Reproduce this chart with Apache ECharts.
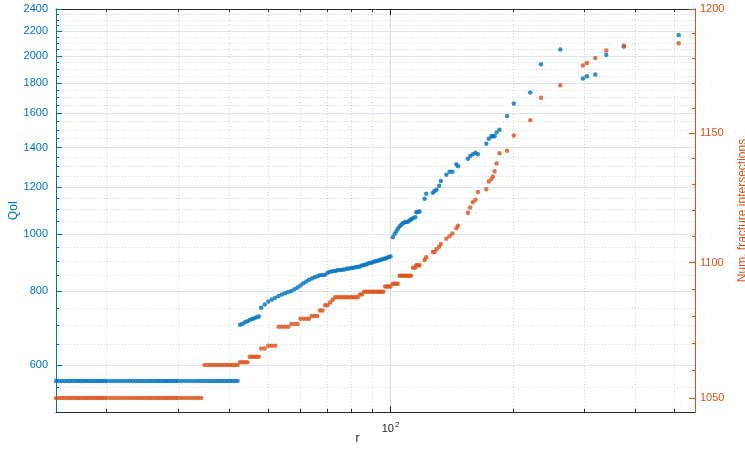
<!DOCTYPE html>
<html>
<head>
<meta charset="utf-8">
<script src="https://cdn.jsdelivr.net/npm/echarts@6/dist/echarts.min.js"></script>
<style>html,body{margin:0;padding:0;background:#fff}#c{width:745px;height:449px}</style>
</head>
<body>
<div id="c"></div>
<script>
// ---- data ----
const r = [
  15,15.25,15.5,15.75,16,16.25,16.5,16.75,17,17.25,17.5,17.75,18,18.25,18.5,18.75,19,19.25,19.5,19.75,20,
  20.4,20.8,21.2,21.6,22,22.4,22.8,23.2,23.6,24,24.4,24.8,25.2,25.6,26,26.4,26.8,27.2,27.6,28,28.4,28.8,29.2,29.6,30,
  30.6,31.2,31.8,32.4,33,33.6,34.2,34.8,35.4,36,36.6,37.2,37.8,38.4,39,39.6,40.2,40.8,41.4,42,42.6,43.2,43.8,44.4,45,45.6,46.2,46.8,47.4,48,
  49,50,51,52,53,54,55,56,57,58,59,60,61,62,63,64,65,66,67,68,69,70,71,72,73,74,75,76,77,78,79,80,81,82,83,84,85,86,87,88,89,90,91,92,93,94,95,96,97,98,99,100,
  101.3,102.3,103.3,104.2,105.2,106.3,107.2,108.3,109.3,110.3,111.4,112.4,113.5,115.0,115.7,116.8,117.9,
  121.3,122.4,127.1,128.4,129.8,131.7,133.0,137.2,139.7,142.0,145.2,146.6,155.0,157.1,159.5,161.9,164.1,172.1,174.6,177.1,
  178.6,180.4,182.4,185.5,193.6,201.1,220.8,234.6,261.8,297.7,304.5,319.3,339.8,375.5,512.3
];
const qoi = [
  564,564,564,564,564,564,564,564,564,564,564,564,564,564,564,564,564,564,564,564,564,
  564,564,564,564,564,564,564,564,564,564,564,564,564,564,564,564,564,564,564,564,564,564,564,564,564,
  564,564,564,564,564,564,564,564,564,564,564,564,564,564,564,564,564,564,564,564,702,705,709,712,715,718,720,723,725,750,
  760,769,775,780,785,790,794,798,801,806,812,818,825,831,837,841,845,848,851,852,853,860,863,865,866,868,869,870,871,873,874,876,877,878,879,881,884,886,888,891,893,895,897,899,901,903,905,907,909,911,914,916,
  987,1000,1009,1020,1029,1036,1042,1046,1048,1049,1054,1059,1063,1067,1088,1089,1091,
  1147,1169,1174,1182,1188,1206,1229,1259,1274,1274,1311,1301,1340,1354,1363,1371,1364,1421,1449,1463,
  1463,1463,1484,1500,1583,1661,1734,1935,2049,1831,1847,1859,2009,2075,2168
];
const nfi = [
  1050,1050,1050,1050,1050,1050,1050,1050,1050,1050,1050,1050,1050,1050,1050,1050,1050,1050,1050,1050,1050,
  1050,1050,1050,1050,1050,1050,1050,1050,1050,1050,1050,1050,1050,1050,1050,1050,1050,1050,1050,1050,1050,1050,1050,1050,1050,
  1050,1050,1050,1050,1050,1050,1050,1062,1062,1062,1062,1062,1062,1062,1062,1062,1062,1062,1062,1062,1063,1063,1063,1063,1065,1065,1065,1065,1065,1068,
  1068,1069,1069,1069,1076,1076,1076,1076,1077,1077,1077,1079,1079,1079,1079,1080,1080,1080,1082,1082,1084,1084,1085,1086,1087,1087,1087,1087,1087,1087,1087,1087,1087,1087,1087,1088,1088,1089,1089,1089,1089,1089,1089,1089,1089,1089,1089,1089,1091,1091,1091,1091,
  1092,1092,1092,1092,1095,1095,1095,1095,1095,1095,1095,1095,1098,1098,1099,1099,1099,
  1101,1102,1104,1104,1105,1106,1107,1109,1110,1111,1113,1114,1119,1121,1123,1124,1127,1128,1131,1132,
  1133,1135,1138,1142,1143,1149,1155,1164,1169,1177,1178,1180,1183,1185,1186
];
const xMajorTicks = [100];
const xMinorTicks = [20,30,40,50,60,70,80,90,200,300,400,500];
const leftMajorTicks = [600,800,1000,1200,1400,1600,1800,2000,2200,2400];
const leftMinorTicks = [550,650,700,750,850,900,950,1050,1100,1150,1250,1300,1350,1450,1500,1550,1650,1700,1750,1850,1900,1950,2050,2100,2150,2250,2300,2350];
const rightMajorTicks = [1050,1100,1150,1200];
const rightMinorTicks = [1060,1070,1080,1090,1110,1120,1130,1140,1160,1170,1180,1190];
const xName = 'r';
const leftName = 'QoI';
const rightName = 'Num. fracture intersections';

// ---- styling ----
const FONT = '"Liberation Sans", Arial, Helvetica, sans-serif';
const BLUE = '#0072BD', ORANGE = '#D95319', DARK = '#262626';
const XMIN = 15, XMAX = 562, YLMIN = 500, YLMAX = 2400, YRMIN = 1045, YRMAX = 1200;

function xAxis(pos, ticks, len, withLine, split, extra) {
  return Object.assign({
    type: 'log', logBase: 10, min: XMIN, max: XMAX, position: pos,
    axisLine: { show: withLine, onZero: false, lineStyle: { color: DARK, width: 1 } },
    axisTick: { show: true, inside: true, length: len, customValues: ticks, lineStyle: { color: DARK, width: 1 } },
    axisLabel: { show: false },
    splitLine: split ? { show: true, lineStyle: split } : { show: false },
    minorTick: { show: false }, minorSplitLine: { show: false }
  }, extra || {});
}
function yAxis(pos, min, max, color, ticks, len, withLine, split, extra) {
  return Object.assign({
    type: 'log', logBase: 10, min: min, max: max, position: pos,
    axisLine: { show: withLine, onZero: false, lineStyle: { color: color, width: 1 } },
    axisTick: { show: true, inside: true, length: len, customValues: ticks, lineStyle: { color: color, width: 1 } },
    axisLabel: { show: false },
    splitLine: split ? { show: true, lineStyle: split } : { show: false },
    minorTick: { show: false }, minorSplitLine: { show: false }
  }, extra || {});
}

const chart = echarts.init(document.getElementById('c'), null, { renderer: 'canvas' });
chart.setOption({
  animation: false,
  backgroundColor: '#ffffff',
  textStyle: { fontFamily: FONT },
  grid: { left: 56, right: 50, top: 9, bottom: 37, containLabel: false, outerBoundsMode: 'none' },
  xAxis: [
    xAxis('bottom', xMajorTicks, 6, true, { color: '#dcdcdc', width: 1 }, {
      axisLabel: {
        show: true, customValues: xMajorTicks, margin: 11,
        formatter: v => '{b|10}{s|' + Math.round(Math.log10(v)) + '}',
        rich: {
          b: { fontSize: 11, fontFamily: FONT, color: DARK, lineHeight: 11, verticalAlign: 'bottom' },
          s: { fontSize: 8, fontFamily: FONT, color: DARK, lineHeight: 8, padding: [0, 0, 5, 1], verticalAlign: 'bottom' }
        }
      },
      name: xName, nameLocation: 'middle', nameGap: 21, nameMoveOverlap: false,
      nameTextStyle: { fontSize: 12, fontFamily: FONT, color: DARK, padding: [0, 36, 0, 0] }
    }),
    xAxis('bottom', xMinorTicks, 3, false, { color: '#d6d6d6', width: 1, type: [1, 2] }),
    xAxis('top', xMajorTicks, 6, true, null),
    xAxis('top', xMinorTicks, 3, false, null)
  ],
  yAxis: [
    yAxis('left', YLMIN, YLMAX, BLUE, leftMajorTicks, 6, true, { color: '#dae7f3', width: 1 }, {
      axisLabel: { show: true, customValues: leftMajorTicks, margin: 8, color: BLUE, fontSize: 11, fontFamily: FONT, formatter: v => String(Math.round(v)) },
      name: leftName, nameLocation: 'middle', nameGap: 36, nameMoveOverlap: false,
      nameTextStyle: { fontSize: 12, fontFamily: FONT, color: BLUE }
    }),
    yAxis('left', YLMIN, YLMAX, BLUE, leftMinorTicks, 3, false, { color: '#cddbe6', width: 1, type: [1, 2] }),
    yAxis('right', YRMIN, YRMAX, ORANGE, rightMajorTicks, 6, true, null, {
      axisLabel: { show: true, customValues: rightMajorTicks, margin: 5, color: ORANGE, fontSize: 11, fontFamily: FONT, formatter: v => String(Math.round(v)) },
      name: rightName, nameLocation: 'middle', nameGap: 42, nameMoveOverlap: false,
      nameTextStyle: { fontSize: 12, fontFamily: FONT, color: ORANGE }
    }),
    yAxis('right', YRMIN, YRMAX, ORANGE, rightMinorTicks, 3, false, null)
  ],
  series: [
    {
      type: 'scatter', name: leftName, xAxisIndex: 0, yAxisIndex: 0,
      data: r.map((x, i) => [x, qoi[i]]),
      symbol: 'circle', symbolSize: 4.5, itemStyle: { color: BLUE }, silent: true, z: 3
    },
    {
      type: 'scatter', name: rightName, xAxisIndex: 0, yAxisIndex: 2,
      data: r.map((x, i) => [x, nfi[i]]),
      symbol: 'circle', symbolSize: 4.5, itemStyle: { color: ORANGE }, silent: true, z: 4
    }
  ]
});
</script>
</body>
</html>
